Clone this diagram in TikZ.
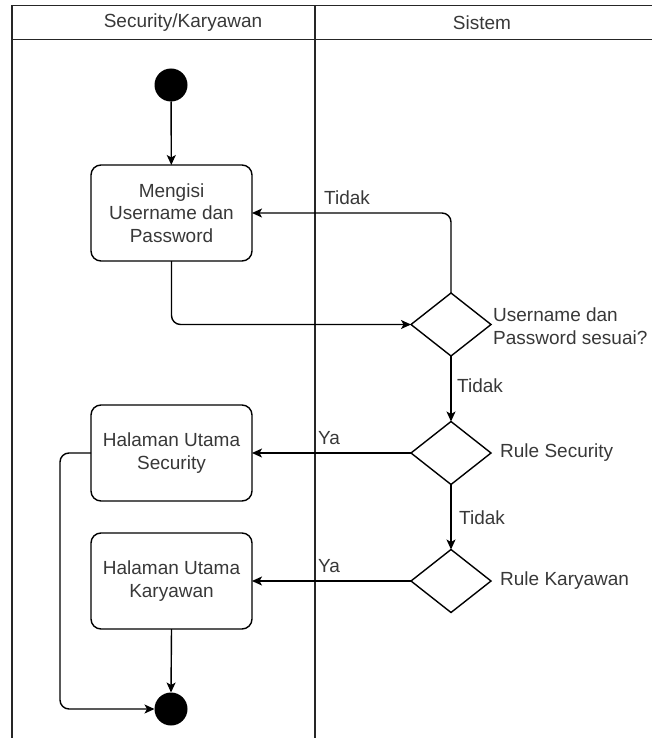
\documentclass[tikz,border=0pt]{standalone}
\usepackage{fontspec}
\setmainfont{Liberation Sans}
\usetikzlibrary{shapes.geometric,arrows.meta}

\begin{document}
\begin{tikzpicture}[x=1pt,y=-1pt,
  lane/.style={line width=1.3pt, draw=black!85},
  txt/.style={font=\fontsize{19}{22.5}\selectfont, text=black!78},
  act/.style={txt, draw, line width=1.4pt, rounded corners=10pt,
    minimum width=161pt, minimum height=96pt, align=center,
    inner sep=0pt, outer sep=0pt},
  dec/.style={draw, diamond, line width=1.4pt, minimum width=80pt,
    minimum height=63pt, inner sep=0pt, outer sep=0pt},
  lbl/.style={txt, inner sep=0pt, align=left, anchor=west},
  dot/.style={circle, fill=black, minimum size=33pt, inner sep=0pt, outer sep=0pt},
  flow/.style={line width=1.4pt, rounded corners=9pt,
    -{Stealth[length=10pt,width=9pt,inset=2.5pt]}}
]
\useasboundingbox (0,0) rectangle (652,738);

% swimlane frame
\draw[lane] (12,738) -- (12,5.5) -- (652,5.5);
\draw[lane] (12,39.5) -- (652,39.5);
\draw[lane] (315,5.5) -- (315,738);
\node[txt] (laneA) at (183,22.5) {Security/Karyawan};
\node[txt] (laneB) at (482,22.5) {Sistem};

% nodes
\node[dot] (start) at (171,85) {};
\node[act] (login) at (171.5,213) {Mengisi\\Username dan\\Password};
\node[act] (homeSec) at (171.5,453) {Halaman Utama\\Security};
\node[act] (homeKar) at (171.5,581) {Halaman Utama\\Karyawan};
\node[dot] (finish) at (171,709) {};

\node[dec] (check) at (451,324.5) {};
\node[dec] (ruleSec) at (451,453) {};
\node[dec] (ruleKar) at (451,581) {};

\node[lbl] (checkLbl) at (493,326) {Username dan\\Password sesuai?};
\node[lbl] (ruleSecLbl) at (500,453) {Rule Security};
\node[lbl] (ruleKarLbl) at (500,581) {Rule Karyawan};

% connectors
\draw[flow] (start) -- (login);
\draw[flow] (login.south) |- (check.west);
\draw[flow] (check.north) |- (login.east);
\draw[flow] (check.south) -- (ruleSec.north);
\draw[flow] (ruleSec.west) -- (homeSec.east);
\draw[flow] (ruleSec.south) -- (ruleKar.north);
\draw[flow] (ruleKar.west) -- (homeKar.east);
\draw[flow] (homeKar.south) -- (finish.north);
\coordinate (bypass) at (60,453);
\draw[flow] (homeSec.west) -- (bypass) |- (finish.west);

% connector labels
\node[lbl] (no1) at (324,198) {Tidak};
\node[lbl] (no2) at (457,386) {Tidak};
\node[lbl] (no3) at (459,518) {Tidak};
\node[lbl] (yes1) at (318,438) {Ya};
\node[lbl] (yes2) at (318,566) {Ya};
\end{tikzpicture}
\end{document}
